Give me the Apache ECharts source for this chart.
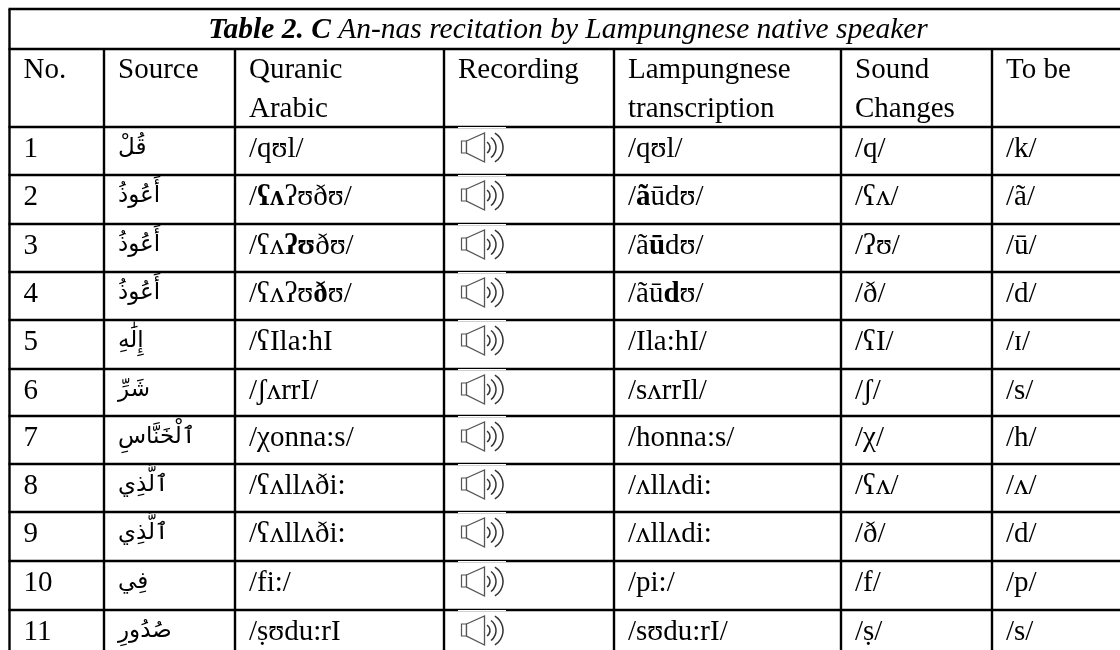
<!DOCTYPE html>
<html><head><meta charset="utf-8">
<style>html,body{margin:0;padding:0;background:#fff}#c{width:1120px;height:650px}</style>
<script src="https://cdn.jsdelivr.net/npm/echarts@6/dist/echarts.min.js"></script>
</head><body><div id="c"></div>
<script>
const titleBold = 'Table 2. C';
const titleRest = ' An-nas recitation by Lampungnese native speaker';
const headers = [['No.'],['Source'],['Quranic','Arabic'],['Recording'],['Lampungnese','transcription'],['Sound','Changes'],['To be']];
const numbers = ['1','2','3','4','5','6','7','8','9','10','11'];
const sources = ['قُلْ','أَعُوذُ','أَعُوذُ','أَعُوذُ','إِلَٰهِ','شَرِّ','ٱلْخَنَّاسِ','ٱلَّذِي','ٱلَّذِي','فِي','صُدُورِ'];
const quranic = ['/qʊl/','/{b|ʕʌ}ʔʊðʊ/','/ʕʌ{b|ʔʊ}ðʊ/','/ʕʌʔʊ{b|ð}ʊ/','/ʕIla:hI','/ʃʌrrI/','/χonna:s/','/ʕʌllʌði:','/ʕʌllʌði:','/fi:/','/ṣʊdu:rI'];
const lampung = ['/qʊl/','/{b|ã}ūdʊ/','/ã{b|ū}dʊ/','/ãū{b|d}ʊ/','/Ila:hI/','/sʌrrIl/','/honna:s/','/ʌllʌdi:','/ʌllʌdi:','/pi:/','/sʊdu:rI/'];
const changes = ['/q/','/ʕʌ/','/ʔʊ/','/ð/','/ʕI/','/ʃ/','/χ/','/ʕʌ/','/ð/','/f/','/ṣ/'];
const toBe = ['/k/','/ã/','/ū/','/d/','/ɪ/','/s/','/h/','/ʌ/','/d/','/p/','/s/'];

// layout of the table on the pixel-valued axes
const colEdges = [9.5, 104, 235, 444, 614, 841, 992];
const rowEdges = [127, 175, 224, 272, 320, 369, 416, 464, 512, 561, 610];
const topY = 9, titleY = 49, bottomY = 650;
const FS = 29, TITLE_FS = 29.5, AR_FS = 23, FONT = '"Liberation Serif"', AR = '"DejaVu Sans"';
const textPad = 14;

const cells = [];
const rich = {b:{fontFamily:FONT,fontSize:FS,fontWeight:'bold',fill:'#000'}};
headers.forEach((h,c)=>h.forEach((t,i)=>cells.push([colEdges[c]+textPad, 70.5+i*39, t, 0])));
[numbers,sources,quranic,null,lampung,changes,toBe].forEach((col,c)=>{
  if(!col) return;
  col.forEach((t,r)=>cells.push([colEdges[c]+textPad, rowEdges[r]+(c===1?21:22.5), t, c===1?1:0]));
});

const chart = echarts.init(document.getElementById('c'),null,{renderer:'canvas'});
const lineStyle = {stroke:'#000',lineWidth:2.4};
chart.setOption({
  animation:false,
  backgroundColor:'#fff',
  grid:{left:0,right:0,top:0,bottom:0},
  xAxis:{type:'value',min:0,max:1120,show:false},
  yAxis:{type:'value',min:0,max:650,inverse:true,show:false},
  series:[
    {type:'custom',silent:true,coordinateSystem:'cartesian2d',z:1,
     data:[[topY,0],[titleY,0]].concat(rowEdges.map(y=>[y,0])),encode:{x:[],y:0},
     renderItem:(p,api)=>{const a=api.coord([colEdges[0]-1,api.value(0)]),b=api.coord([1120,api.value(0)]);
       return {type:'line',shape:{x1:a[0],y1:a[1],x2:b[0],y2:b[1]},style:lineStyle};}},
    {type:'custom',silent:true,coordinateSystem:'cartesian2d',z:1,
     data:colEdges.map(x=>[x]),encode:{x:0,y:[]},
     renderItem:(p,api)=>{const x=api.value(0),full=(x===colEdges[0]);
       const a=api.coord([x,full?topY:titleY]),b=api.coord([x,bottomY]);
       return {type:'line',shape:{x1:a[0],y1:a[1],x2:b[0],y2:b[1]},style:lineStyle};}},
    {type:'custom',silent:true,coordinateSystem:'cartesian2d',z:3,
     data:rowEdges.map(y=>[y]),encode:{y:0,x:[]},
     renderItem:(p,api)=>{const c=api.coord([458,api.value(0)]);
       const x=c[0],y=c[1];
       const g='#555', a='#333';
       return {type:'group',children:[
         {type:'rect',shape:{x:x,y:y,width:48,height:1.3},style:{fill:'#fff'}},
         {type:'rect',shape:{x:x+3.5,y:y+14,width:5,height:12},style:{fill:'#fff',stroke:g,lineWidth:1.2}},
         {type:'polygon',shape:{points:[[x+8.5,y+14],[x+26.5,y+6],[x+26.5,y+35],[x+8.5,y+26]]},style:{fill:'#fff',stroke:g,lineWidth:1.3}},
         {type:'arc',shape:{cx:x+25.5,cy:y+20.5,r:6.5,startAngle:-1,endAngle:1},style:{fill:null,stroke:a,lineWidth:1.5}},
         {type:'arc',shape:{cx:x+25.5,cy:y+20.5,r:12.5,startAngle:-0.93,endAngle:0.93},style:{fill:null,stroke:a,lineWidth:1.5}},
         {type:'arc',shape:{cx:x+28,cy:y+20.5,r:17,startAngle:-1.02,endAngle:1.02},style:{fill:null,stroke:a,lineWidth:1.5}}
       ]};}},
    {type:'custom',silent:true,coordinateSystem:'cartesian2d',z:4,
     data:cells,encode:{x:0,y:1},
     renderItem:(p,api)=>{const d=cells[p.dataIndex],c=api.coord([d[0],d[1]]);
       return {type:'text',style:{x:c[0],y:c[1],text:d[2],fill:'#000',align:'left',verticalAlign:'middle',
         font:d[3]?`${AR_FS}px ${AR}`:`${FS}px ${FONT}`,rich}};}},
    {type:'custom',silent:true,coordinateSystem:'cartesian2d',z:4,
     data:[[568,30]],encode:{x:0,y:1},
     renderItem:(p,api)=>{const c=api.coord([api.value(0),api.value(1)]);
       const r={a:{fontFamily:FONT,fontSize:TITLE_FS,fontWeight:'bold',fontStyle:'italic',fill:'#000'},
                c:{fontFamily:FONT,fontSize:TITLE_FS,fontStyle:'italic',fill:'#000'}};
       return {type:'text',style:{x:c[0],y:c[1],text:`{a|${titleBold}}{c|${titleRest}}`,align:'center',verticalAlign:'middle',rich:r}};}}
  ]
});
</script></body></html>
